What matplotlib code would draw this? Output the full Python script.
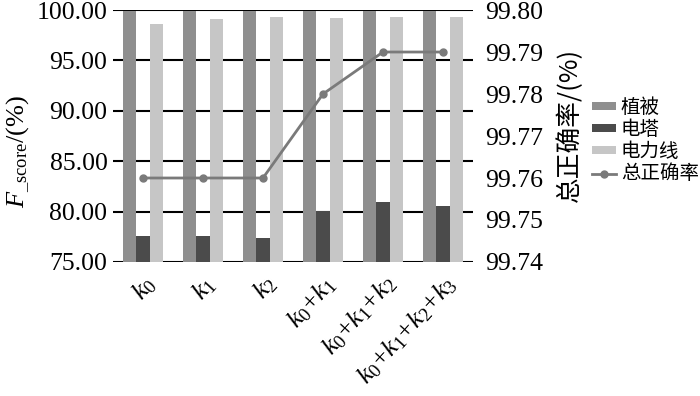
import matplotlib
matplotlib.use("Agg")
import matplotlib.pyplot as plt
import matplotlib.transforms as mtransforms
import numpy as np

plt.rcParams['font.family'] = ['Liberation Serif', 'Noto Sans CJK SC']
plt.rcParams['mathtext.fontset'] = 'custom'
plt.rcParams['mathtext.rm'] = 'Liberation Serif'
plt.rcParams['mathtext.it'] = 'Liberation Serif:italic'

# data
groups = [r'$k_0$', r'$k_1$', r'$k_2$', r'$k_0\!+\!k_1$', r'$k_0\!+\!k_1\!+\!k_2$', r'$k_0\!+\!k_1\!+\!k_2\!+\!k_3$']
vegetation = [99.95, 99.95, 99.95, 99.95, 99.95, 99.95]
tower = [77.58, 77.58, 77.40, 80.09, 80.98, 80.56]
powerline = [98.61, 99.10, 99.30, 99.17, 99.30, 99.30]
total_acc = [99.76, 99.76, 99.76, 99.78, 99.79, 99.79]

c_veg = '#8f8f8f'
c_tow = '#4b4b4b'
c_pow = '#c6c6c6'
c_line = '#7a7a7a'

fig = plt.figure(figsize=(7, 3.96), dpi=100)
ax = fig.add_axes([0.1614, 0.3384, 0.5143, 0.6363])
x = np.arange(len(groups))
w = 0.222

ax.set_axisbelow(True)
ax.yaxis.grid(True, color='black', linewidth=1.5)
b1 = ax.bar(x - w, vegetation, w, color=c_veg, label='植被')
b2 = ax.bar(x, tower, w, color=c_tow, label='电塔')
b3 = ax.bar(x + w, powerline, w, color=c_pow, label='电力线')
ax.set_ylim(75, 100)
ax.set_xlim(-0.5, 5.5)
ax.set_yticks(np.arange(75, 100.1, 5))
ax.set_yticklabels(['%.2f' % v for v in np.arange(75, 100.1, 5)], fontsize=18.5)
ax.set_xticks(x)
ax.set_xticklabels([])

# rotated category labels, shifted right/down like the original
trans = mtransforms.blended_transform_factory(ax.transData, ax.transAxes)
offset = mtransforms.ScaledTranslation(0.09, -0.18, fig.dpi_scale_trans)
for xi, g in zip(x, groups):
    ax.text(xi, 0, g, transform=trans + offset, fontsize=19, rotation=48,
            ha='right', va='center', rotation_mode='anchor')

ax.tick_params(axis='both', length=0, pad=4)
for s in ax.spines.values():
    s.set_visible(False)
ax.set_ylabel(r'$F_{\_\mathrm{score}}$/(%)', fontsize=19)
ax.yaxis.set_label_coords(-0.228, 0.437)

ax2 = ax.twinx()
ln, = ax2.plot(x, total_acc, color=c_line, linewidth=2, marker='o', markersize=5, label='总正确率')
ax2.set_ylim(99.74, 99.80)
ax2.set_yticks(np.arange(99.74, 99.8001, 0.01))
ax2.set_yticklabels(['%.2f' % v for v in np.arange(99.74, 99.8001, 0.01)], fontsize=18.5)
ax2.tick_params(axis='y', length=0, pad=9)
for s in ax2.spines.values():
    s.set_visible(False)
ax2.set_ylabel('总正确率/(%)', fontsize=18.5, family=['Noto Sans CJK SC'])
ax2.yaxis.set_label_coords(1.231, 0.544)

leg = fig.legend([b1, b2, b3, ln], ['植被', '电塔', '电力线', '总正确率'],
                 loc='center left', bbox_to_anchor=(0.845, 0.645), frameon=False,
                 prop={'family': 'Noto Sans CJK SC', 'size': 14},
                 handlelength=1.25, handleheight=0.28, handletextpad=0.25,
                 labelspacing=0.06, borderpad=0, borderaxespad=0)

fig.savefig('out.png', dpi=100)
